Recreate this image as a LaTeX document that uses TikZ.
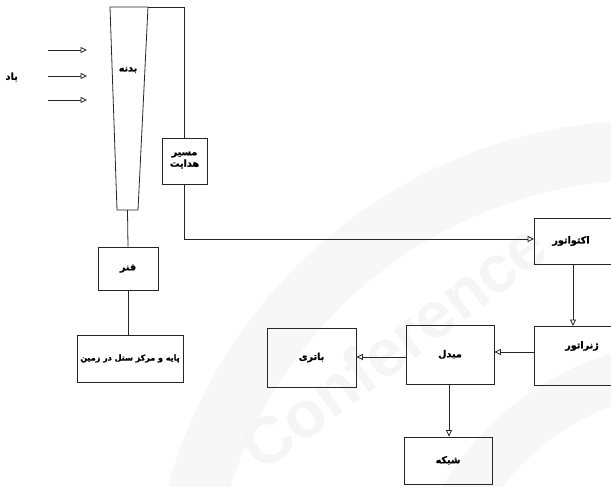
\documentclass[tikz,border=0pt]{standalone}
\usepackage{fontspec}
\usetikzlibrary{arrows.meta}
\TeXXeTstate=1
\newfontfamily\fa[Script=Arabic, BoldFeatures={FakeBold=1.2}]{DejaVu Sans}
\newfontfamily\wm{Liberation Sans}
\begin{document}
\begin{tikzpicture}[x=1pt,y=-1pt,
  ln/.style={draw=black!85, line width=0.8pt},
  box/.style={ln, rectangle, inner sep=0pt, font=\fa\bfseries\fontsize{9.6}{11.5}\selectfont},
  lbl/.style={inner sep=0pt, font=\fa\bfseries\fontsize{9.6}{11.5}\selectfont, align=center},
  arr/.style={ln, -{Triangle[open, length=6.5pt, width=6pt]}}]
\useasboundingbox (0,0) rectangle (611,487);
\clip (0,0) rectangle (611,487);
% faint watermark
\fill[black!3, even odd rule] (650,620) circle (500) (650,620) circle (440);
\fill[black!3, even odd rule] (700,640) circle (300) (700,640) circle (250);
\node[rotate=37, anchor=base west, inner sep=0pt, text=black!4,
  font=\wm\bfseries\fontsize{66}{66}\selectfont] (wmk) at (262,474) {Conference};
% body (trapezoid)
\coordinate (tl) at (110,7);
\coordinate (tr) at (148,7);
\coordinate (br) at (138,210);
\coordinate (bl) at (117,210);
\coordinate (bbot) at (127.5,210);
\draw[ln] (tl) -- (tr) -- (br) -- (bl) -- cycle;
\node[lbl] (body) at (128,70) {\beginR بدنه\endR};
% wind
\coordinate (w1a) at (48,50);  \coordinate (w1b) at (87,50);
\coordinate (w2a) at (48,76);  \coordinate (w2b) at (87,76);
\coordinate (w3a) at (48,100); \coordinate (w3b) at (87,100);
\draw[arr] (w1a) -- (w1b);
\draw[arr] (w2a) -- (w2b);
\draw[arr] (w3a) -- (w3b);
\node[lbl, anchor=east] (wind) at (18,77) {\beginR باد\endR};
% steering path
\node[box, minimum width=45pt, minimum height=46pt] (steer) at (184.5,161) {};
\node[lbl] (steert) at (184.5,160) {\beginR مسیر\endR\\\beginR هدایت\endR};
\coordinate (tc) at (184.5,7);
\coordinate (turn) at (184.5,239);
\draw[ln] (tr) -- (tc) -- (steer.north);
% actuator etc.
\node[box, minimum width=100pt, minimum height=46pt, anchor=north west] (act) at (534,218) {};
\node[lbl] (actt) at (571,241) {\beginR اکتواتور\endR};
\draw[arr] (steer.south) -- (turn) -- (act.west |- turn);
\node[box, minimum width=100pt, minimum height=59pt, anchor=north west] (gen) at (534,326) {};
\node[lbl] (gent) at (582,346) {\beginR ژنراتور\endR};
\coordinate (acs) at (573,264);
\coordinate (gnn) at (573,326);
\draw[arr] (acs) -- (gnn);
\node[box, minimum width=88pt, minimum height=59pt] (conv) at (450,354.5) {\beginR مبدل\endR};
\coordinate (g1) at (534,352);
\draw[arr] (g1) -- (conv.east |- g1);
\node[box, minimum width=89pt, minimum height=59pt] (bat) at (311.5,357.5) {\beginR باتری\endR};
\coordinate (c1) at (406,357);
\draw[arr] (c1) -- (bat.east |- c1);
\node[box, minimum width=88pt, minimum height=47pt] (net) at (448,460.5) {\beginR شبکه\endR};
\coordinate (c2) at (449,383.5);
\draw[arr] (c2) -- (c2 |- net.north);
% spring and base
\node[box, minimum width=60pt, minimum height=43pt] (spring) at (128,268.5) {\beginR فنر\endR};
\draw[ln] (bbot) -- (spring.north);
\node[box, minimum width=106pt, minimum height=47pt, font=\fa\bfseries\fontsize{8}{9.5}\selectfont] (base) at (130,358.5) {\beginR پایه و مرکز ستل در زمین\endR};
\draw[ln] (spring.south) -- (spring.south |- base.north);
\end{tikzpicture}
\end{document}
